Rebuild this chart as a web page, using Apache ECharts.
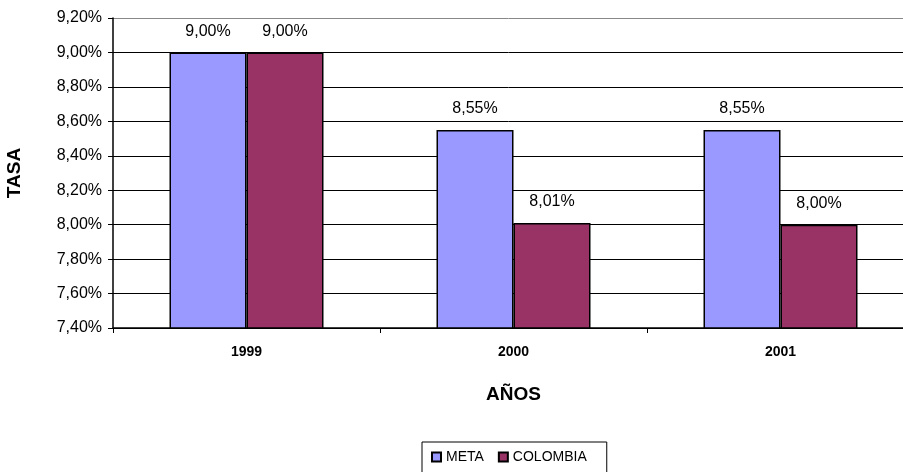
<!DOCTYPE html>
<html><head><meta charset="utf-8">
<script src="https://cdn.jsdelivr.net/npm/echarts@6/dist/echarts.min.js"></script>
<style>html,body{margin:0;padding:0;background:#fff}#c{width:903px;height:472px}</style>
</head><body><div id="c"></div>
<script>
const categories = ['1999', '2000', '2001'];
const meta = [9.00, 8.55, 8.55];
const colombia = [9.00, 8.01, 8.00];
const yTicks = {min: 7.4, max: 9.2, interval: 0.2};
const fmt = v => v.toFixed(2).replace('.', ',') + '%';
const chart = echarts.init(document.getElementById('c'));
const font = 'Liberation Sans, Arial, sans-serif';
const labelOpt = {show: true, position: 'top', distance: 13, color: '#000', fontSize: 16, fontFamily: font,
  formatter: p => fmt(p.value)};
chart.setOption({
  animation: false,
  backgroundColor: '#fff',
  textStyle: {fontFamily: font},
  grid: {left: 113, top: 18, width: 801, height: 310, containLabel: false, outerBoundsMode: 'none'},
  legend: {
    data: ['META', 'COLOMBIA'], top: 442, left: 422,
    borderColor: '#000', borderWidth: 1, padding: [8, 20, 9, 9],
    itemWidth: 9, itemHeight: 9, itemGap: 14, icon: 'rect',
    textStyle: {fontSize: 14, color: '#000', fontFamily: font}
  },
  xAxis: {
    type: 'category', data: categories,
    name: 'AÑOS', nameLocation: 'middle', nameGap: 57,
    nameTextStyle: {fontSize: 19, fontWeight: 'bold', color: '#000'},
    axisLine: {lineStyle: {color: '#000', width: 1.5}},
    axisTick: {show: true, length: 5, lineStyle: {color: '#000'}},
    axisLabel: {fontSize: 14, fontWeight: 'bold', color: '#000', margin: 17}
  },
  yAxis: {
    type: 'value', min: yTicks.min, max: yTicks.max, interval: yTicks.interval,
    name: 'TASA', nameLocation: 'middle', nameGap: 89, nameRotate: 90,
    nameTextStyle: {fontSize: 19, fontWeight: 'bold', color: '#000'},
    axisLine: {show: true, lineStyle: {color: '#000', width: 1.5}},
    axisTick: {show: true, length: 5, lineStyle: {color: '#000'}},
    axisLabel: {fontSize: 16, color: '#000', margin: 11, formatter: v => fmt(v)},
    splitLine: {show: true, lineStyle: {color: ['#000', '#000', '#000', '#000', '#000', '#000', '#000', '#000', '#000', '#888'], width: 1}}
  },
  series: [
    {name: 'META', type: 'bar', data: meta, barWidth: 77, barGap: '0%',
     itemStyle: {color: '#9999FF', borderColor: '#000', borderWidth: 1.5}, label: labelOpt},
    {name: 'COLOMBIA', type: 'bar', data: colombia, barWidth: 77,
     itemStyle: {color: '#993366', borderColor: '#000', borderWidth: 1.5}, label: labelOpt}
  ]
});
</script></body></html>
